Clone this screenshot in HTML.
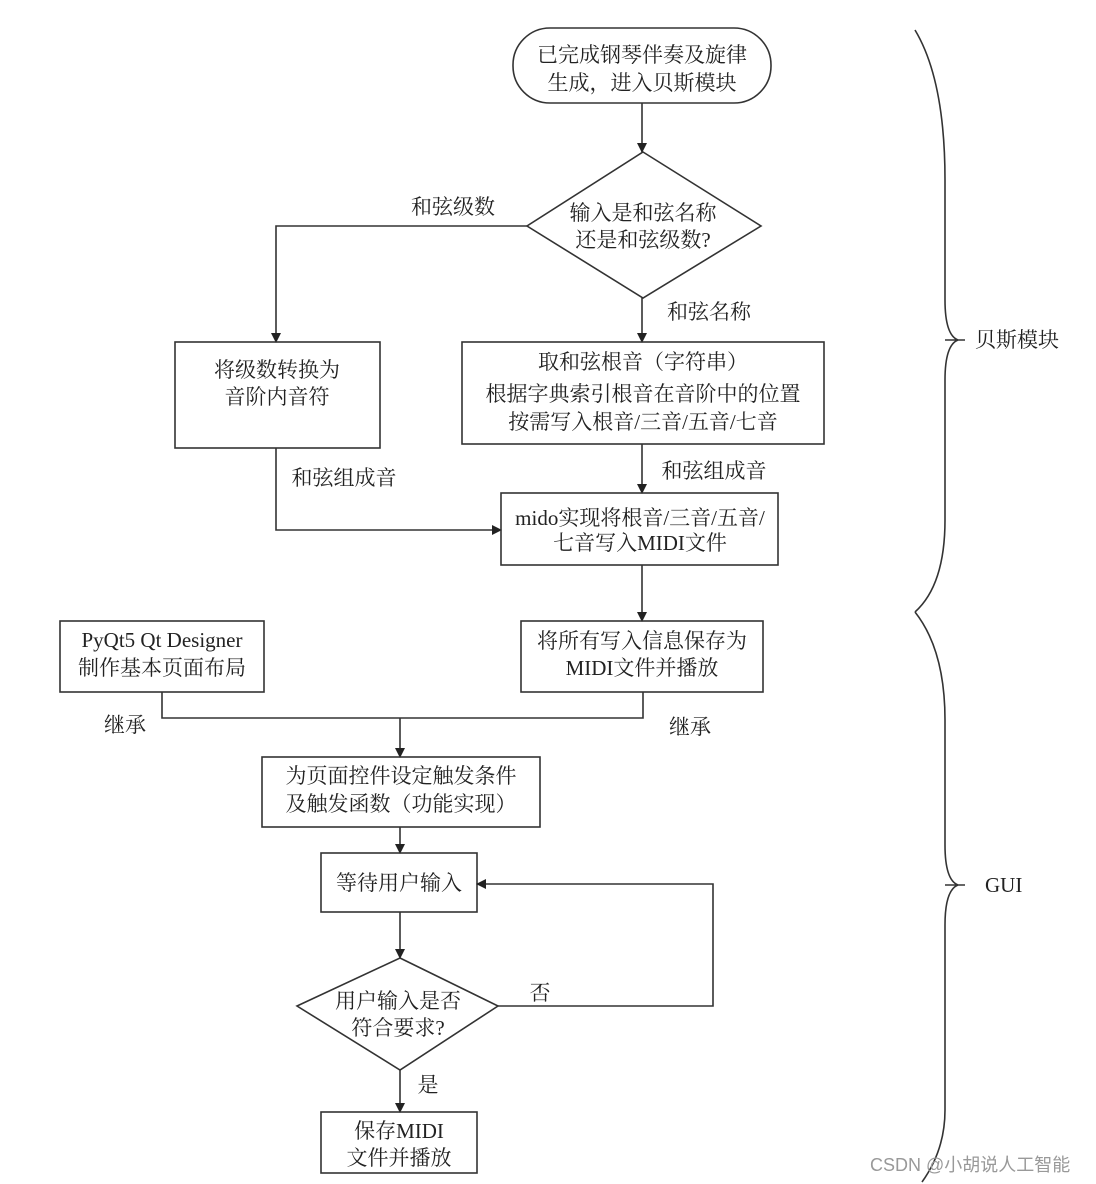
<!DOCTYPE html>
<html><head><meta charset="utf-8"><style>
html,body{margin:0;padding:0;background:#fff}
svg{display:block}
text{font-family:"Liberation Serif","Noto Serif CJK SC",serif;font-size:21px;fill:#222;text-anchor:middle}
.l{text-anchor:start}
</style></head><body>
<svg width="1096" height="1184" viewBox="0 0 1096 1184" xmlns="http://www.w3.org/2000/svg">
<defs><marker id="a" markerWidth="10" markerHeight="14" refX="9" refY="7" orient="auto" markerUnits="userSpaceOnUse"><path d="M0,2 L10,7 L0,12 z" fill="#222"/></marker></defs>
<g stroke="#333" stroke-width="1.6" fill="none">
<rect x="513" y="28" width="258" height="75" rx="37" fill="#fff"/>
<line x1="642" y1="103" x2="642" y2="152" marker-end="url(#a)"/>
<polygon points="643,152 761,226 643,298 527,226"/>
<polyline points="527,226 276,226 276,342" marker-end="url(#a)"/>
<line x1="642" y1="298" x2="642" y2="342" marker-end="url(#a)"/>
<rect x="175" y="342" width="205" height="106"/>
<rect x="462" y="342" width="362" height="102"/>
<line x1="642" y1="444" x2="642" y2="493" marker-end="url(#a)"/>
<polyline points="276,448 276,530 501,530" marker-end="url(#a)"/>
<rect x="501" y="493" width="277" height="72"/>
<line x1="642" y1="565" x2="642" y2="621" marker-end="url(#a)"/>
<rect x="60" y="621" width="204" height="71"/>
<rect x="521" y="621" width="242" height="71"/>
<polyline points="162,692 162,718 643,718 643,692"/>
<line x1="400" y1="718" x2="400" y2="757" marker-end="url(#a)"/>
<rect x="262" y="757" width="278" height="70"/>
<line x1="400" y1="827" x2="400" y2="853" marker-end="url(#a)"/>
<rect x="321" y="853" width="156" height="59"/>
<line x1="400" y1="912" x2="400" y2="958" marker-end="url(#a)"/>
<polygon points="400,958 498,1006 400,1070 297,1006"/>
<polyline points="498,1006 713,1006 713,884 477,884" marker-end="url(#a)"/>
<line x1="400" y1="1070" x2="400" y2="1112" marker-end="url(#a)"/>
<rect x="321" y="1112" width="156" height="61"/>
<path d="M915,30 Q945,80 945,180 L945,300 Q945,335 958,340 M945,340 L965,340 M958,340 Q945,345 945,380 L945,520 Q945,585 915,612"/>
<path d="M915,612 Q945,650 945,720 L945,845 Q945,880 958,885 M945,885 L965,885 M958,885 Q945,890 945,925 L945,1110 Q945,1150 922,1182"/>
</g>
<text x="642" y="62">已完成钢琴伴奏及旋律</text>
<text x="642" y="90">生成，进入贝斯模块</text>
<text x="643" y="220">输入是和弦名称</text>
<text x="643" y="247">还是和弦级数?</text>
<text x="453" y="214">和弦级数</text>
<text x="709" y="319">和弦名称</text>
<text x="277" y="377">将级数转换为</text>
<text x="277" y="404">音阶内音符</text>
<text x="643" y="369">取和弦根音（字符串）</text>
<text x="643" y="401">根据字典索引根音在音阶中的位置</text>
<text x="643" y="429">按需写入根音/三音/五音/七音</text>
<text x="714" y="478">和弦组成音</text>
<text x="344" y="485">和弦组成音</text>
<text x="640" y="525">mido实现将根音/三音/五音/</text>
<text x="640" y="550">七音写入MIDI文件</text>
<text x="162" y="647">PyQt5 Qt Designer</text>
<text x="162" y="675">制作基本页面布局</text>
<text x="642" y="648">将所有写入信息保存为</text>
<text x="642" y="675">MIDI文件并播放</text>
<text x="125" y="732">继承</text>
<text x="690" y="734">继承</text>
<text x="401" y="783">为页面控件设定触发条件</text>
<text x="401" y="811">及触发函数（功能实现）</text>
<text x="399" y="890">等待用户输入</text>
<text x="398" y="1008">用户输入是否</text>
<text x="398" y="1035">符合要求?</text>
<text x="540" y="1000">否</text>
<text x="428" y="1092">是</text>
<text x="399" y="1138">保存MIDI</text>
<text x="399" y="1165">文件并播放</text>
<text class="l" x="975" y="347">贝斯模块</text>
<text class="l" x="985" y="892">GUI</text>
<text class="l" x="870" y="1171" style="font-family:'Liberation Sans','Noto Sans CJK SC',sans-serif;font-size:18px;fill:#999">CSDN @小胡说人工智能</text>
</svg>
</body></html>
